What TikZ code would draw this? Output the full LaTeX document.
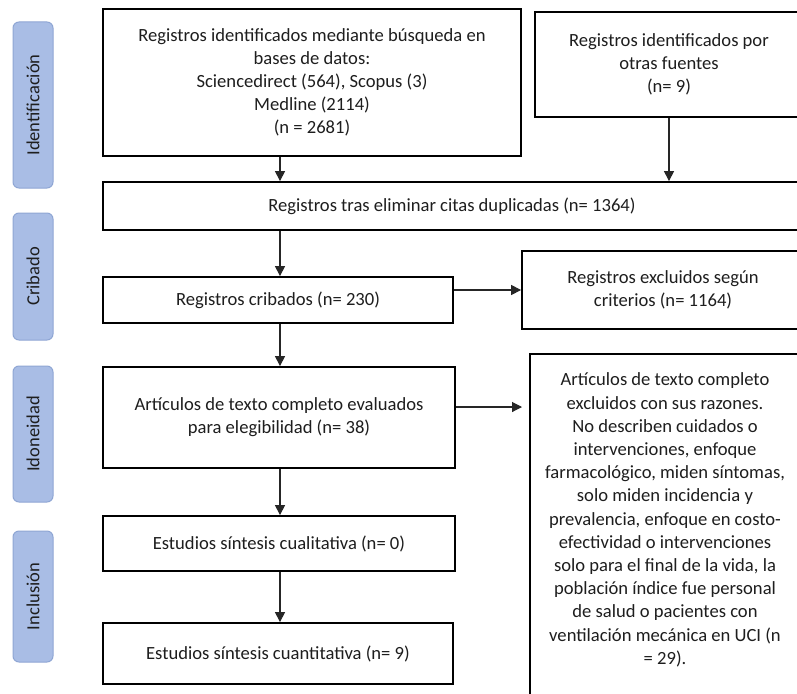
\documentclass[tikz,border=0pt]{standalone}
\usepackage{fontspec}
\setmainfont{Carlito}
\usetikzlibrary{arrows.meta}
\definecolor{sidefill}{HTML}{A9BDE5}
\definecolor{sidedraw}{HTML}{8FA6D4}
\definecolor{txt}{HTML}{1E1E1E}
\tikzset{
  box/.style={draw=black, line width=1.8pt, fill=white, align=center, inner sep=4pt,
    text=txt, font=\fontsize{18.6}{23}\selectfont},
  side/.style={draw=sidedraw, line width=1pt, fill=sidefill, rounded corners=6pt,
    rotate=90, text=txt, font=\fontsize{18.5}{20}\selectfont},
  arr/.style={draw=black!85, line width=1.1pt, -{Triangle[length=10pt,width=10pt]}}
}
\begin{document}
\begin{tikzpicture}[x=1pt,y=-1pt]
\useasboundingbox (0,0) rectangle (797,693);
\clip (0,0) rectangle (797,693);
\fill[white] (0,0) rectangle (797,693);
% side labels
\node[side, minimum height=40pt, minimum width=166pt] (s1) at (33,105) {Identificación};
\node[side, minimum height=40pt, minimum width=127pt] (s2) at (33,276.5) {Cribado};
\node[side, minimum height=40pt, minimum width=136pt] (s3) at (33,434) {Idoneidad};
\node[side, minimum height=40pt, minimum width=131pt] (s4) at (33,596.5) {Inclusión};
% boxes
\node[box, minimum width=418pt, minimum height=147pt] (b1) at (312,82.5)
  {Registros identificados mediante búsqueda en\\bases de datos:\\Sciencedirect (564), Scopus (3)\\Medline (2114)\\(n = 2681)};
\node[box, minimum width=268pt, minimum height=105pt] (b2) at (669,64.5)
  {Registros identificados por\\otras fuentes\\(n= 9)};
\node[box, minimum width=698pt, minimum height=48pt] (b3) at (452,206)
  {Registros tras eliminar citas duplicadas (n= 1364)};
\node[box, minimum width=350pt, minimum height=46pt] (b4) at (278,300)
  {Registros cribados (n= 230)};
\node[box, minimum width=282pt, minimum height=78pt] (b5) at (663,290)
  {Registros excluidos según\\criterios (n= 1164)};
\node[box, minimum width=352pt, minimum height=101pt] (b6) at (279,417.5)
  {Artículos de texto completo evaluados\\para elegibilidad (n= 38)};
\node[box, minimum width=352pt, minimum height=55pt] (b7) at (279,543.5)
  {Estudios síntesis cualitativa (n= 0)};
\node[box, minimum width=350pt, minimum height=61pt] (b8) at (278,653.5)
  {Estudios síntesis cuantitativa (n= 9)};
\node[box, minimum width=270pt, minimum height=350pt] (b9) at (665,529) {};
\node[text=txt, align=center, font=\fontsize{18.6}{23.2}\selectfont] (t9) at (665,520)
  {Artículos de texto completo\\excluidos con sus razones.\\No describen cuidados o\\intervenciones, enfoque\\farmacológico, miden síntomas,\\solo miden incidencia y\\prevalencia, enfoque en costo-\\efectividad o intervenciones\\solo para el final de la vida, la\\población índice fue personal\\de salud o pacientes con\\ventilación mecánica en UCI (n\\= 29).};
% connectors
\coordinate (p9) at (522,407);
\draw[arr] (b1.south -| 280,0) -- (b3.north -| 280,0);
\draw[arr] (b2.south) -- (b3.north -| b2.south);
\draw[arr] (b3.south -| 280,0) -- (b4.north -| 280,0);
\draw[arr] (b4.east |- b5.west) -- (b5.west);
\draw[arr] (b4.south -| 280,0) -- (b6.north -| 280,0);
\draw[arr] (b6.east |- p9) -- (p9);
\draw[arr] (b6.south -| 280,0) -- (b7.north -| 280,0);
\draw[arr] (b7.south -| 280,0) -- (b8.north -| 280,0);
\end{tikzpicture}
\end{document}
